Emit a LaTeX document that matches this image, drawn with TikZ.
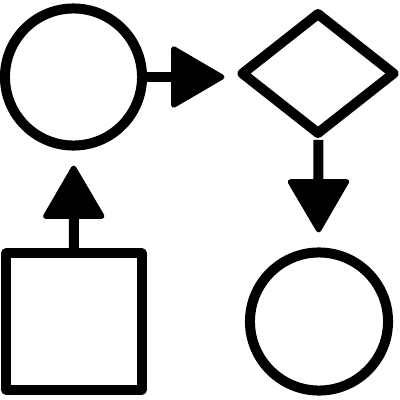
\documentclass[tikz,border=0pt]{standalone}
\usetikzlibrary{shapes.geometric,arrows.meta}
\begin{document}
\begin{tikzpicture}[x=0.01cm,y=-0.01cm,line width=0.1cm,line join=round,
    blk/.style={draw,inner sep=0pt},
    flow/.style={-{Triangle[length=0.56cm,width=0.64cm,line width=1.5pt,round]},shorten >=0.15cm}]
  \useasboundingbox (0,0) rectangle (400,400);
  \node[blk,circle,minimum size=1.37cm] (start) at (73.5,77) {};
  \node[blk,diamond,minimum width=1.55cm,minimum height=1.23cm] (test) at (318,73.5) {};
  \node[blk,rectangle,minimum size=1.36cm] (proc) at (74,321.5) {};
  \node[blk,circle,minimum size=1.38cm] (stop) at (319,321.5) {};
  \draw[flow,shorten >=0.11cm] (start.east) -- (start.east -| test.west);
  \draw[flow] (test) -- (stop);
  \draw[flow] (proc) -- (start);
\end{tikzpicture}
\end{document}
